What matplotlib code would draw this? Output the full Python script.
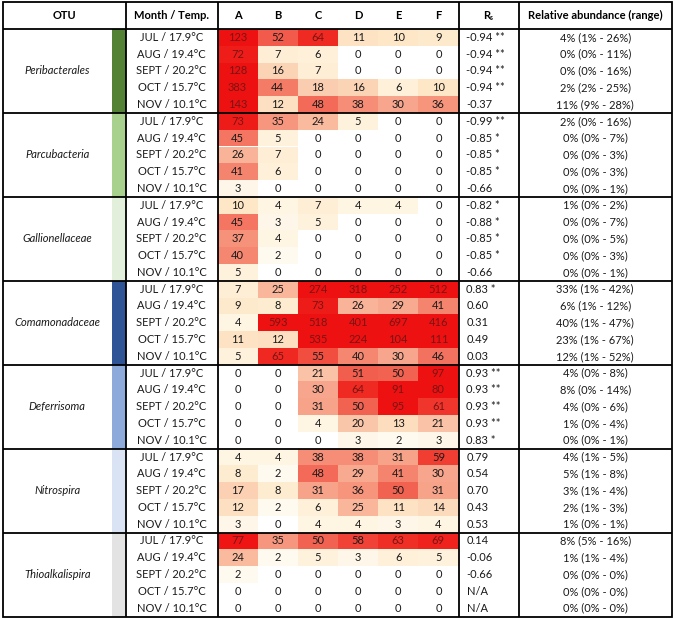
import matplotlib
matplotlib.use("Agg")
import matplotlib.pyplot as plt
from matplotlib.colors import LinearSegmentedColormap
from matplotlib.patches import Rectangle
import numpy as np

plt.rcParams["font.family"] = ["Lato", "DejaVu Sans"]

SAMPLES = ["A", "B", "C", "D", "E", "F"]
MONTHS = ["JUL / 17.9°C", "AUG / 19.4°C", "SEPT / 20.2°C", "OCT / 15.7°C", "NOV / 10.1°C"]
OTUS = [
    "Peribacterales",
    "Parcubacteria",
    "Gallionellaceae",
    "Comamonadaceae",
    "Deferrisoma",
    "Nitrospira",
    "Thioalkalispira",
]
OTU_COLORS = ["#548235", "#a9d18e", "#e2efda", "#2f5597", "#8eaadb", "#dae3f3", "#e3e3e3"]

peribacterales = [
    [123, 52, 64, 11, 10, 9],
    [72, 7, 6, 0, 0, 0],
    [128, 16, 7, 0, 0, 0],
    [383, 44, 18, 16, 6, 10],
    [143, 12, 48, 38, 30, 36],
]
parcubacteria = [
    [73, 35, 24, 5, 0, 0],
    [45, 5, 0, 0, 0, 0],
    [26, 7, 0, 0, 0, 0],
    [41, 6, 0, 0, 0, 0],
    [3, 0, 0, 0, 0, 0],
]
gallionellaceae = [
    [10, 4, 7, 4, 4, 0],
    [45, 3, 5, 0, 0, 0],
    [37, 4, 0, 0, 0, 0],
    [40, 2, 0, 0, 0, 0],
    [5, 0, 0, 0, 0, 0],
]
comamonadaceae = [
    [7, 25, 274, 318, 252, 512],
    [9, 8, 73, 26, 29, 41],
    [4, 593, 518, 401, 697, 416],
    [11, 12, 535, 224, 104, 111],
    [5, 65, 55, 40, 30, 46],
]
deferrisoma = [
    [0, 0, 21, 51, 50, 97],
    [0, 0, 30, 64, 91, 80],
    [0, 0, 31, 50, 95, 61],
    [0, 0, 4, 20, 13, 21],
    [0, 0, 0, 3, 2, 3],
]
nitrospira = [
    [4, 4, 38, 38, 31, 59],
    [8, 2, 48, 29, 41, 30],
    [17, 8, 31, 36, 50, 31],
    [12, 2, 6, 25, 11, 14],
    [3, 0, 4, 4, 3, 4],
]
thioalkalispira = [
    [77, 35, 50, 58, 63, 69],
    [24, 2, 5, 3, 6, 5],
    [2, 0, 0, 0, 0, 0],
    [0, 0, 0, 0, 0, 0],
    [0, 0, 0, 0, 0, 0],
]
COUNTS = [peribacterales, parcubacteria, gallionellaceae, comamonadaceae,
          deferrisoma, nitrospira, thioalkalispira]

RS = [
    ["-0.94 **", "-0.94 **", "-0.94 **", "-0.94 **", "-0.37"],
    ["-0.99 **", "-0.85 *", "-0.85 *", "-0.85 *", "-0.66"],
    ["-0.82 *", "-0.88 *", "-0.85 *", "-0.85 *", "-0.66"],
    ["0.83 *", "0.60", "0.31", "0.49", "0.03"],
    ["0.93 **", "0.93 **", "0.93 **", "0.93 **", "0.83 *"],
    ["0.79", "0.54", "0.70", "0.43", "0.53"],
    ["0.14", "-0.06", "-0.66", "N/A", "N/A"],
]
ABUNDANCE = [
    ["4% (1% - 26%)", "0% (0% - 11%)", "0% (0% - 16%)", "2% (2% - 25%)", "11% (9% - 28%)"],
    ["2% (0% - 16%)", "0% (0% - 7%)", "0% (0% - 3%)", "0% (0% - 3%)", "0% (0% - 1%)"],
    ["1% (0% - 2%)", "0% (0% - 7%)", "0% (0% - 5%)", "0% (0% - 3%)", "0% (0% - 1%)"],
    ["33% (1% - 42%)", "6% (1% - 12%)", "40% (1% - 47%)", "23% (1% - 67%)", "12% (1% - 52%)"],
    ["4% (0% - 8%)", "8% (0% - 14%)", "4% (0% - 6%)", "1% (0% - 4%)", "0% (0% - 1%)"],
    ["4% (1% - 5%)", "5% (1% - 8%)", "3% (1% - 4%)", "2% (1% - 3%)", "1% (0% - 1%)"],
    ["8% (5% - 16%)", "1% (1% - 4%)", "0% (0% - 0%)", "0% (0% - 0%)", "0% (0% - 0%)"],
]

heat = LinearSegmentedColormap.from_list(
    "heat",
    [(0.0, "#ffffff"), (0.04, "#fef6e6"), (0.12, "#fde8c8"), (0.3, "#f9b99e"),
     (0.55, "#f47b66"), (0.8, "#ef2a22"), (1.0, "#ee1111")],
)
VMAX = 80.0

# layout in pixels
W, H = 675, 619
left, right, top, bottom = 3, 672, 1.5, 616.5
header_h = 27.5
row_h = (bottom - top - header_h) / 35
x_bar = (111.5, 125.5)
x_month = (125.5, 217.5)
x_heat = np.linspace(217.5, 458.5, 7)
x_rs = (458.5, 518.5)
x_ab = (518.5, right)
fs = 8.0
ink = "#1a1a1a"
lw = 1.3

fig = plt.figure(figsize=(W / 100, H / 100), dpi=100)
ax = fig.add_axes([0, 0, 1, 1])
ax.set_xlim(0, W)
ax.set_ylim(H, 0)
ax.axis("off")

ty = top + header_h / 2
ax.text((left + x_bar[1]) / 2, ty, "OTU", ha="center", va="center", fontsize=fs, weight="bold")
ax.text(sum(x_month) / 2, ty, "Month / Temp.", ha="center", va="center", fontsize=fs, weight="bold")
for j, s in enumerate(SAMPLES):
    ax.text((x_heat[j] + x_heat[j + 1]) / 2, ty, s, ha="center", va="center", fontsize=fs, weight="bold")
ax.text(sum(x_rs) / 2 - 2, ty, "R", ha="center", va="center", fontsize=fs, weight="bold")
ax.text(sum(x_rs) / 2 + 2.5, ty + 2.5, "s", ha="center", va="center", fontsize=fs * 0.6, weight="bold")
ax.text(sum(x_ab) / 2, ty, "Relative abundance (range)", ha="center", va="center", fontsize=fs, weight="bold")

for g, name in enumerate(OTUS):
    y0 = top + header_h + g * 5 * row_h
    ax.add_patch(Rectangle((x_bar[0], y0), x_bar[1] - x_bar[0], 5 * row_h,
                           facecolor=OTU_COLORS[g], edgecolor="none"))
    ax.text((left + x_bar[0]) / 2, y0 + 2.5 * row_h, name, ha="center", va="center",
            fontsize=fs, style="italic", color=ink)
    data = np.asarray(COUNTS[g], dtype=float)
    for i in range(5):
        yc = y0 + (i + 0.5) * row_h
        ax.text(sum(x_month) / 2, yc, MONTHS[i], ha="center", va="center", fontsize=fs, color=ink)
        for j in range(6):
            v = data[i, j]
            ax.add_patch(Rectangle((x_heat[j], y0 + i * row_h), x_heat[j + 1] - x_heat[j], row_h,
                                   facecolor=heat(min(v / VMAX, 1.0)), edgecolor="none"))
            ax.text((x_heat[j] + x_heat[j + 1]) / 2, yc, f"{int(v)}", ha="center", va="center",
                    fontsize=fs, color="#7a1414" if v >= 60 else ink)
        ax.text(x_rs[0] + 8, yc, RS[g][i], ha="left", va="center", fontsize=fs, color=ink)
        ax.text(sum(x_ab) / 2, yc, ABUNDANCE[g][i], ha="center", va="center", fontsize=fs, color=ink)
    ax.plot([left, right], [y0, y0], color="black", lw=lw, solid_capstyle="butt")

ax.add_patch(Rectangle((left, top), right - left, bottom - top, facecolor="none",
                       edgecolor="black", lw=lw))
for x in [x_month[0], x_month[1], x_rs[0], x_rs[1]]:
    ax.plot([x, x], [top, bottom], color="black", lw=lw, solid_capstyle="butt")

fig.savefig("out.png", dpi=100)
